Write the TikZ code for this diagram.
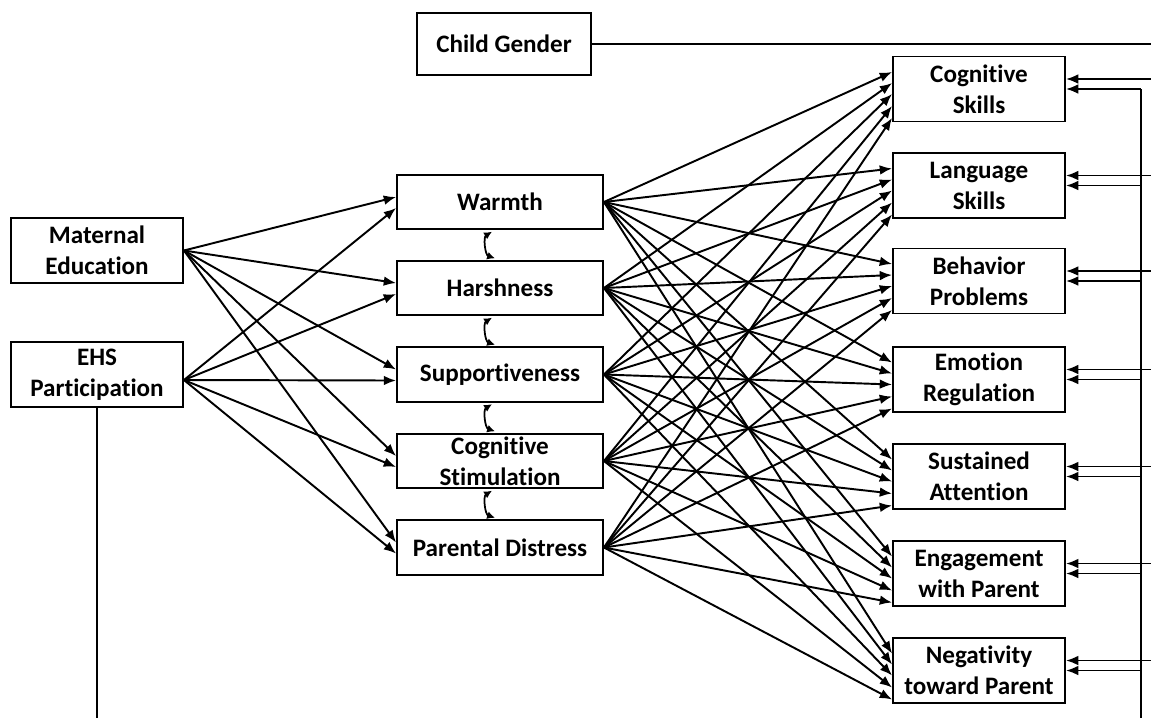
\documentclass[tikz,border=0pt]{standalone}
\usepackage{fontspec}
\setmainfont{Carlito}[Ligatures=NoCommon]
\usepackage{tikz}
\usetikzlibrary{arrows.meta, calc}
\definecolor{BLACK}{HTML}{000000}

\begin{document}
\begin{tikzpicture}[x=0.02cm, y=-0.02cm,
    box/.style={draw=BLACK, line width=1.1pt, align=center, inner sep=0pt,
        font=\fontsize{14.3}{17.6}\selectfont\bfseries},
    inbox/.style={box, minimum width=3.44cm, minimum height=1.3cm},
    midbox/.style={box, minimum width=4.12cm, minimum height=1.09cm},
    outbox/.style={box, minimum width=3.44cm, minimum height=1.3cm},
    line/.style={BLACK, line width=1.1pt},
    arr/.style={line, -{Latex[length=7pt,width=5.5pt]}},
    corr/.style={BLACK, line width=1pt, {Latex[length=4.5pt,width=4.5pt]}-{Latex[length=4.5pt,width=4.5pt]}}]
    \useasboundingbox (0,0) rectangle (1151,718);

    % covariates
    \node[box, minimum width=3.48cm, minimum height=1.24cm] (gender) at (504,44) {Child Gender};
    \node[inbox] (mated) at (97,250.5) {Maternal\\Education};
    \node[inbox] (ehs) at (97,374.5) {EHS\\Participation};

    % parenting
    \node[midbox] (warmth) at (500,202) {Warmth};
    \node[midbox] (harsh) at (500,288) {Harshness};
    \node[midbox] (support) at (500,374.5) {Supportiveness};
    \node[midbox] (cogstim) at (500,461) {Cognitive\\Stimulation};
    \node[midbox] (distress) at (500,547.5) {Parental Distress};

    % child outcomes
    \node[outbox] (cogsk) at (979,89) {Cognitive\\Skills};
    \node[outbox] (langsk) at (979,185.5) {Language\\Skills};
    \node[outbox] (behav) at (979,281) {Behavior\\Problems};
    \node[outbox] (emoreg) at (979,379.5) {Emotion\\Regulation};
    \node[outbox] (sustatt) at (979,476.5) {Sustained\\Attention};
    \node[outbox] (engage) at (979,573.5) {Engagement\\with Parent};
    \node[outbox] (negtv) at (979,670.5) {Negativity\\toward Parent};

    \coordinate (gendend) at (1151,44);
    \coordinate (ctltop) at (1141,89);
    \coordinate (ctlbot) at (1141,718);
    \coordinate (ehsbot) at (97,718);

    % left paths
    \foreach \m in {warmth, harsh, support, cogstim, distress} {
        \draw[arr] (mated.east) -- ($(\m.west)+(0,-5)$);
        \draw[arr] ($(ehs.east)+(0,5.5)$) -- ($(\m.west)+(0,6)$);
    }

    % parenting to outcomes
    \foreach \m/\k in {warmth/-17, harsh/-6, support/5, cogstim/17, distress/29} {
        \foreach \o in {cogsk, langsk, behav, emoreg, sustatt, engage, negtv}
            \draw[arr] (\m.east) -- ($(\o.west)+(0,\k)$);
    }

    % covariances
    \foreach \a/\b in {warmth/harsh, harsh/support, support/cogstim, cogstim/distress}
        \draw[corr] ($(\a.south)+(-8,1.5)$) to[bend right=65] ($(\b.north)+(-5,-1.5)$);

    % controls
    \draw[line] (gender) -- (gendend);
    \draw[line] (ehs) -- (ehsbot);
    \draw[line] (ctltop) -- (ctlbot);
    \foreach \o in {cogsk, langsk, behav, emoreg, sustatt, engage, negtv} {
        \draw[arr] ($(\o.east)+(86,-10)$) -- ($(\o.east)+(0,-10)$);
        \draw[arr] (ctltop |- \o.east) -- (\o.east);
    }
\end{tikzpicture}
\end{document}
